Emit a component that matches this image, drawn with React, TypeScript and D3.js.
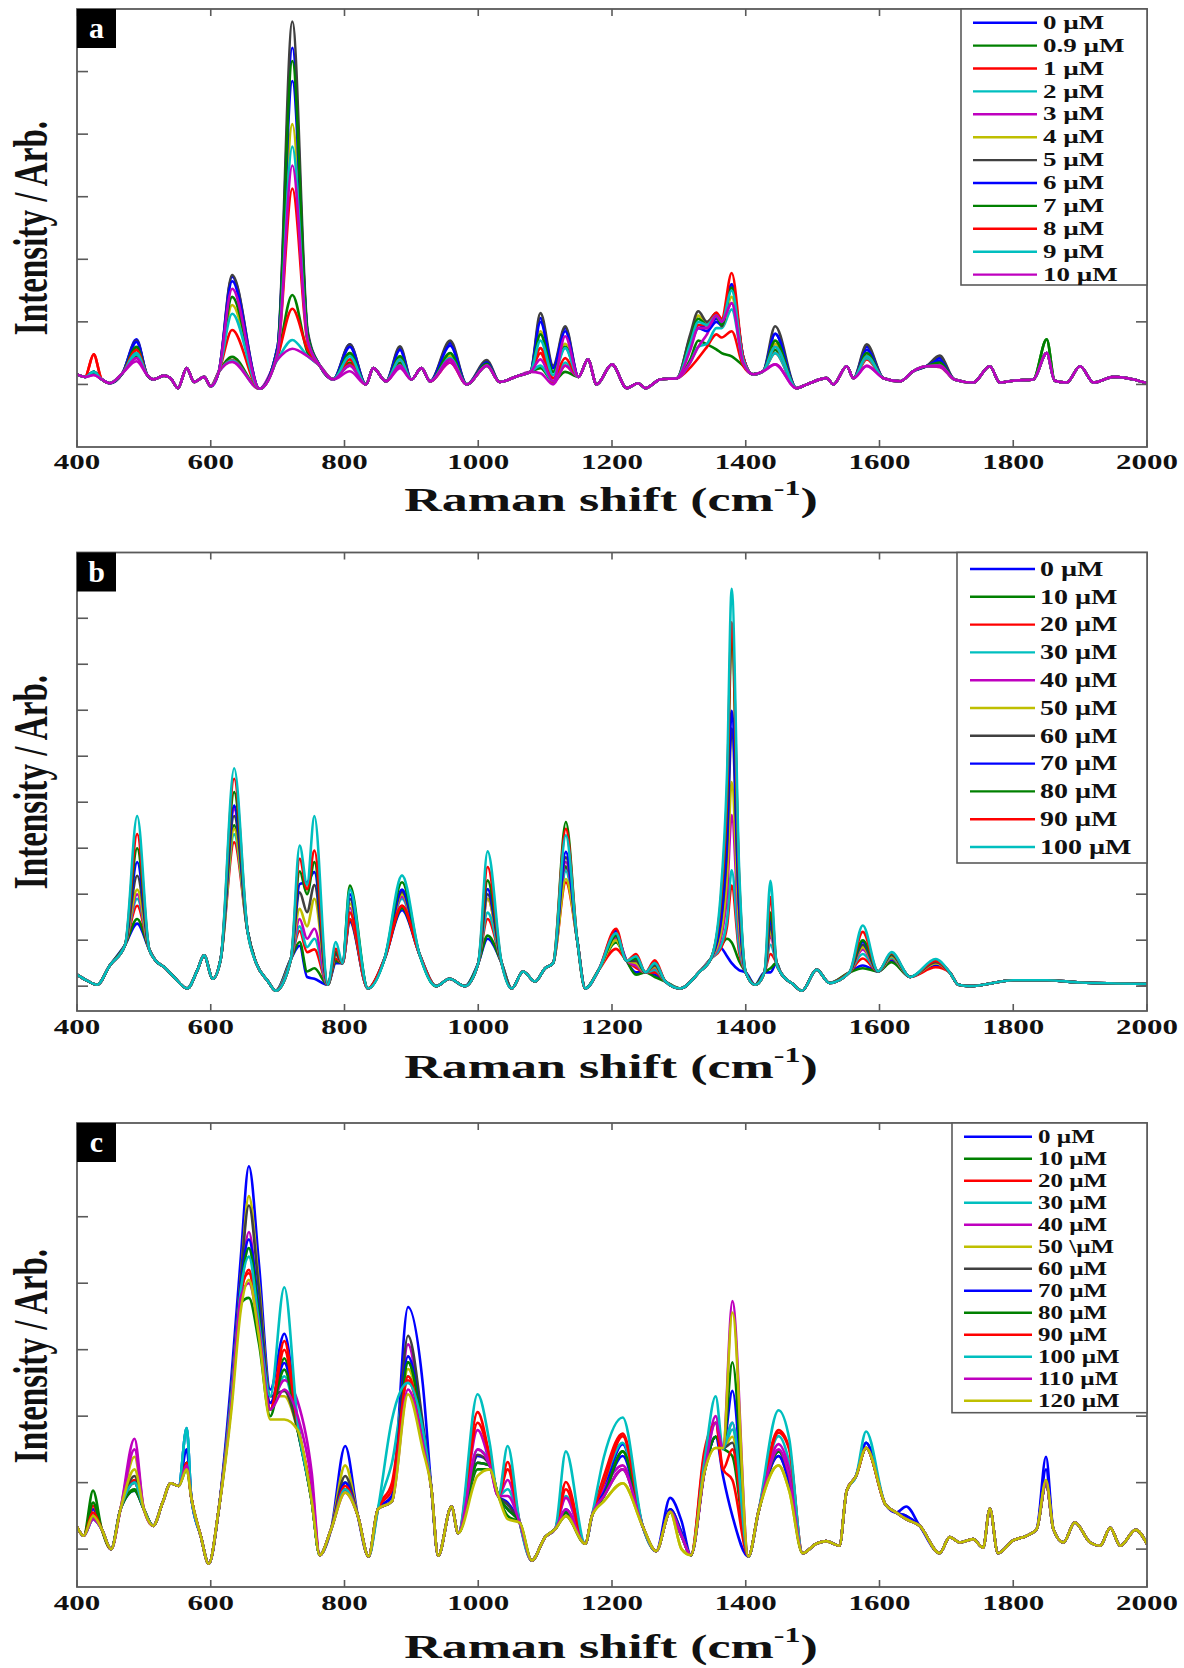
import React from "react";
import * as d3 from "d3";

const W = 1184;
const H = 1668;
const FONT = "'Liberation Serif', 'Times New Roman', serif";
const COLORS = ["#0000ff", "#008000", "#ff0000", "#00bfbf", "#bf00bf", "#bfbf00", "#404040"];
const xTicks = [400, 600, 800, 1000, 1200, 1400, 1600, 1800, 2000];

// ---------- panel a ----------
const labelsA = ["0 µM", "0.9 µM", "1 µM", "2 µM", "3 µM", "4 µM", "5 µM", "6 µM", "7 µM", "8 µM", "9 µM", "10 µM"];
const baseXA = [400, 412, 437, 449, 468, 505, 514, 530, 540, 551, 564, 575, 590, 600, 612, 673, 763, 783, 832, 843, 862, 900, 915, 928, 983, 1032, 1060, 1078, 1150, 1164, 1177, 1200, 1222, 1239, 1250, 1272, 1297, 1411, 1426, 1476, 1491, 1521, 1531, 1551, 1561, 1606, 1631, 1650, 1670, 1712, 1740, 1765, 1780, 1800, 1830, 1862, 1880, 1900, 1920, 1950, 1980, 2000];
const baseYA = [0.16, 0.12, 0.08, 0.02, 0.18, 0.15, 0.08, 0.14, 0.1, -0.06, 0.26, 0.04, 0.12, -0.03, 0.2, -0.07, 0.3, 0.08, 0.0, 0.26, 0.05, 0.08, 0.26, 0.05, 0.0, 0.04, 0.14, 0.2, 0.12, 0.4, 0.0, 0.32, -0.06, 0.02, -0.06, 0.08, 0.1, 0.16, 0.21, -0.06, 0.0, 0.1, 0.0, 0.29, 0.1, 0.1, 0.05, 0.21, 0.29, 0.08, 0.03, 0.29, 0.03, 0.06, 0.08, 0.06, 0.03, 0.29, 0.03, 0.12, 0.08, 0.02];
const peakXA = [425, 489, 632, 700, 722, 745, 808, 883, 958, 1013, 1093, 1112, 1130, 1317, 1329, 1342, 1356, 1364, 1379, 1396, 1444, 1581, 1690, 1850];
const peakYA = [
  [0.2, 0.72, 1.72, 0.6, 5.38, 0.8, 0.64, 0.58, 0.66, 0.36, 1.06, 0.26, 0.9, 0.75, 0.95, 0.9, 1.05, 0.95, 1.6, 0.45, 0.81, 0.6, 0.42, 0.5],
  [0.18, 0.45, 0.44, 0.45, 1.43, 0.5, 0.35, 0.35, 0.42, 0.3, 0.26, 0.05, 0.2, 0.4, 0.7, 0.64, 0.56, 0.5, 0.45, 0.3, 0.55, 0.45, 0.3, 0.72],
  [0.48, 0.58, 0.39, 0.45, 1.21, 0.55, 0.32, 0.3, 0.35, 0.3, 0.5, 0.02, 0.3, 0.27, 0.42, 0.6, 0.8, 0.75, 0.85, 0.3, 0.5, 0.4, 0.28, 0.5],
  [0.2, 0.48, 0.38, 0.4, 0.71, 0.45, 0.3, 0.3, 0.4, 0.3, 0.3, 0.05, 0.35, 0.35, 0.6, 0.65, 0.9, 0.9, 1.2, 0.35, 0.5, 0.42, 0.3, 0.5],
  [0.15, 0.37, 0.36, 0.4, 0.57, 0.45, 0.21, 0.26, 0.35, 0.3, 0.18, 0.0, 0.3, 0.35, 0.6, 0.8, 1.1, 1.0, 1.3, 0.4, 0.32, 0.29, 0.28, 0.5],
  [0.2, 0.55, 1.27, 0.55, 4.16, 0.75, 0.5, 0.45, 0.45, 0.32, 0.85, 0.2, 0.65, 0.75, 1.1, 0.95, 1.1, 0.93, 1.4, 0.4, 0.65, 0.45, 0.32, 0.5],
  [0.2, 0.7, 1.75, 0.6, 5.8, 0.85, 0.64, 0.61, 0.7, 0.39, 1.14, 0.3, 0.93, 0.8, 1.17, 1.0, 1.14, 0.93, 1.55, 0.45, 0.93, 0.64, 0.46, 0.5],
  [0.2, 0.68, 1.65, 0.6, 4.85, 0.8, 0.6, 0.55, 0.62, 0.35, 1.0, 0.26, 0.85, 0.6, 0.9, 0.85, 1.0, 0.95, 1.6, 0.45, 0.81, 0.55, 0.38, 0.5],
  [0.2, 0.6, 1.4, 0.55, 5.17, 0.8, 0.5, 0.45, 0.5, 0.33, 0.8, 0.2, 0.6, 0.7, 1.05, 0.95, 1.1, 0.95, 1.55, 0.4, 0.7, 0.5, 0.35, 0.72],
  [0.48, 0.55, 0.87, 0.5, 3.13, 0.65, 0.4, 0.4, 0.4, 0.3, 0.58, 0.1, 0.42, 0.6, 0.95, 0.95, 1.15, 1.05, 1.78, 0.45, 0.6, 0.45, 0.3, 0.5],
  [0.2, 0.5, 1.13, 0.5, 3.8, 0.7, 0.45, 0.4, 0.42, 0.3, 0.7, 0.15, 0.58, 0.65, 1.0, 0.95, 1.1, 1.0, 1.5, 0.4, 0.6, 0.45, 0.3, 0.5],
  [0.15, 0.42, 1.53, 0.5, 3.5, 0.7, 0.3, 0.3, 0.4, 0.3, 0.4, 0.05, 0.77, 0.55, 0.9, 0.9, 1.1, 1.0, 1.3, 0.35, 0.32, 0.3, 0.3, 0.5],
];

// ---------- panel b ----------
const labelsB = ["0 µM", "10 µM", "20 µM", "30 µM", "40 µM", "50 µM", "60 µM", "70 µM", "80 µM", "90 µM", "100 µM"];
const baseXB = [400, 415, 430, 449, 472, 508, 518, 530, 545, 565, 580, 590, 603, 615, 655, 668, 685, 697, 720, 775, 797, 835, 860, 912, 937, 957, 980, 1000, 1035, 1050, 1067, 1085, 1100, 1112, 1148, 1160, 1180, 1222, 1250, 1280, 1302, 1330, 1348, 1400, 1414, 1428, 1446, 1452, 1470, 1484, 1506, 1525, 1555, 1598, 1646, 1705, 1718, 1735, 1800, 1850, 1900, 2000];
const baseYB = [0.25, 0.12, 0.03, 0.45, 0.9, 0.8, 0.55, 0.42, 0.2, -0.05, 0.35, 0.67, 0.16, 0.6, 1.2, 0.5, 0.12, -0.1, 0.6, 0.03, 0.5, -0.05, 0.6, 0.7, 0.0, 0.16, 0.0, 0.5, 0.5, -0.05, 0.32, 0.1, 0.39, 0.5, 1.0, -0.05, 0.35, 0.55, 0.3, 0.1, -0.05, 0.3, 0.6, 0.3, 0.03, 0.3, 0.5, 0.3, 0.05, -0.1, 0.36, 0.07, 0.3, 0.32, 0.2, 0.3, 0.03, 0.0, 0.13, 0.13, 0.08, 0.05];
const peakXB = [490, 635, 733, 744, 755, 787, 808, 886, 1014, 1131, 1206, 1236, 1264, 1362, 1372, 1379, 1390, 1437, 1575, 1618, 1684];
const peakYB = [
  [1.36, 3.9, 0.88, 0.2, 0.16, 0.5, 1.4, 1.65, 1.03, 2.6, 1.1, 0.3, 0.25, 0.84, 0.65, 0.5, 0.35, 0.3, 0.45, 0.55, 0.45],
  [1.46, 3.5, 0.96, 0.32, 0.39, 0.55, 1.45, 1.7, 1.1, 2.6, 0.95, 0.25, 0.2, 0.85, 1.03, 0.95, 0.55, 0.39, 0.39, 0.52, 0.5],
  [1.75, 3.13, 1.2, 0.74, 0.8, 0.6, 1.46, 1.75, 1.46, 2.26, 0.81, 0.4, 0.3, 0.8, 1.3, 2.19, 0.75, 0.7, 0.6, 0.6, 0.41],
  [1.9, 3.3, 1.3, 0.85, 1.03, 0.7, 1.6, 1.9, 1.6, 2.5, 1.0, 0.45, 0.35, 0.85, 1.45, 2.52, 0.85, 0.9, 0.7, 0.62, 0.5],
  [2.0, 3.85, 1.46, 1.03, 1.25, 0.7, 1.7, 1.95, 1.9, 2.7, 1.05, 0.45, 0.4, 1.0, 2.0, 3.72, 1.15, 1.1, 0.8, 0.65, 0.5],
  [2.1, 3.42, 1.68, 1.3, 1.9, 0.7, 1.8, 2.0, 1.9, 2.33, 1.0, 0.5, 0.42, 1.1, 2.4, 4.44, 1.35, 1.2, 0.85, 0.65, 0.5],
  [2.4, 3.7, 2.04, 1.61, 2.2, 0.7, 1.9, 2.05, 2.0, 2.8, 1.1, 0.55, 0.45, 1.3, 3.0, 5.6, 1.7, 1.3, 0.9, 0.68, 0.52],
  [2.7, 3.93, 2.22, 2.26, 2.48, 0.75, 2.0, 2.1, 2.11, 2.92, 1.2, 0.6, 0.5, 1.35, 3.2, 5.99, 1.8, 1.46, 0.96, 0.7, 0.55],
  [3.0, 4.22, 2.5, 2.0, 2.7, 0.75, 2.19, 2.26, 2.3, 3.57, 1.1, 0.6, 0.5, 1.7, 4.0, 7.6, 2.3, 1.6, 1.0, 0.7, 0.55],
  [3.31, 4.51, 2.77, 2.11, 2.95, 0.81, 1.6, 1.75, 2.59, 3.42, 1.25, 0.7, 0.56, 1.75, 4.2, 7.91, 2.4, 1.94, 1.18, 0.72, 0.55],
  [3.7, 4.74, 3.06, 2.2, 3.7, 0.96, 2.1, 2.41, 2.93, 3.28, 1.15, 0.65, 0.5, 1.9, 4.6, 8.64, 2.6, 2.29, 1.32, 0.74, 0.59],
];

// ---------- panel c ----------
const labelsC = ["0 µM", "10 µM", "20 µM", "30 µM", "40 µM", "50 \\µM", "60 µM", "70 µM", "80 µM", "90 µM", "100 µM", "110 µM", "120 µM"];
const baseXC = [400, 410, 437, 451, 465, 500, 514, 528, 540, 552, 571, 585, 597, 612, 763, 780, 820, 836, 850, 930, 940, 960, 970, 1030, 1062, 1080, 1100, 1115, 1160, 1170, 1246, 1266, 1318, 1404, 1419, 1485, 1505, 1520, 1540, 1551, 1565, 1609, 1625, 1660, 1690, 1705, 1720, 1740, 1755, 1765, 1777, 1800, 1820, 1835, 1860, 1875, 1892, 1915, 1930, 1945, 1960, 1983, 2000];
const baseYC = [0.34, 0.2, 0.3, 0.0, 0.6, 0.6, 0.35, 0.7, 0.99, 0.95, 0.77, 0.2, -0.22, 0.6, -0.09, 0.3, 0.5, -0.11, 0.6, 0.9, -0.1, 0.64, 0.24, 0.8, 0.4, -0.17, 0.18, 0.3, 0.08, 0.5, 0.34, -0.03, -0.09, -0.11, 0.56, -0.06, 0.08, 0.12, 0.05, 0.88, 1.1, 0.67, 0.55, 0.35, -0.06, 0.18, 0.1, 0.15, 0.02, 0.61, -0.06, 0.13, 0.2, 0.3, 0.3, 0.1, 0.4, 0.1, 0.05, 0.32, 0.05, 0.29, 0.08];
const peakXC = [424, 486, 564, 631, 645, 657, 672, 689, 710, 730, 751, 801, 871, 895, 917, 999, 1017, 1044, 1131, 1188, 1216, 1287, 1304, 1338, 1355, 1366, 1380, 1449, 1465, 1580, 1640, 1849];
const peakYC = [
  [0.6, 0.88, 1.82, 2.6, 4.4, 5.76, 4.3, 2.4, 3.24, 1.9, 0.75, 1.55, 0.8, 3.64, 2.49, 1.4, 1.3, 0.7, 0.6, 0.9, 1.58, 0.77, 0.42, 1.15, 1.69, 1.1, 0.5, 1.47, 1.1, 1.6, 0.64, 1.39],
  [0.88, 0.88, 1.2, 2.2, 3.7, 3.78, 3.1, 2.0, 2.87, 1.79, 0.72, 1.0, 0.72, 2.81, 1.79, 1.2, 1.2, 0.5, 0.55, 0.8, 1.47, 0.56, 0.2, 1.15, 1.69, 1.52, 1.4, 1.47, 1.1, 1.52, 0.45, 1.0],
  [0.65, 1.04, 1.3, 2.3, 3.9, 4.15, 3.3, 2.1, 3.13, 1.85, 0.8, 0.9, 1.0, 2.54, 1.7, 2.06, 1.4, 1.31, 1.01, 1.1, 1.74, 0.56, 0.2, 1.47, 1.9, 1.2, 1.04, 1.79, 1.52, 1.52, 0.45, 1.0],
  [0.45, 1.0, 1.82, 2.3, 3.9, 4.53, 3.5, 2.1, 2.6, 1.8, 0.75, 0.9, 1.3, 2.6, 1.8, 1.5, 1.3, 0.9, 0.8, 1.0, 1.6, 0.56, 0.2, 1.2, 1.9, 1.5, 1.8, 1.7, 1.3, 1.6, 0.45, 1.0],
  [0.45, 1.66, 1.26, 2.3, 3.9, 4.77, 3.5, 2.2, 2.54, 2.22, 1.15, 0.9, 0.72, 3.08, 1.79, 1.79, 1.3, 1.04, 0.77, 0.9, 1.26, 0.56, 0.2, 1.15, 2.0, 1.52, 1.9, 1.58, 1.2, 1.52, 0.45, 1.0],
  [0.5, 1.39, 1.26, 2.4, 4.1, 5.31, 4.0, 2.3, 2.3, 1.79, 0.72, 1.26, 0.72, 2.71, 1.79, 1.3, 1.26, 0.6, 0.5, 0.72, 0.99, 0.56, 0.0, 1.15, 1.52, 1.52, 1.69, 1.26, 0.88, 1.52, 0.45, 1.04],
  [0.5, 1.1, 1.3, 2.4, 4.1, 5.17, 3.9, 2.3, 2.38, 1.79, 0.72, 1.1, 0.72, 3.21, 1.9, 1.42, 1.26, 0.67, 0.5, 0.8, 1.2, 0.6, 0.25, 1.15, 1.69, 1.52, 1.6, 1.4, 1.0, 1.52, 0.5, 1.0],
  [0.5, 1.0, 1.5, 2.4, 4.0, 4.66, 3.6, 2.2, 2.8, 1.8, 0.72, 1.0, 0.8, 2.9, 1.8, 1.3, 1.26, 0.6, 0.55, 0.85, 1.4, 0.6, 0.25, 1.15, 1.69, 1.52, 2.38, 1.4, 1.0, 1.6, 0.5, 1.2],
  [0.7, 0.9, 1.3, 2.3, 3.9, 4.53, 3.5, 2.1, 2.7, 1.79, 0.72, 0.9, 0.72, 2.81, 1.79, 1.3, 1.26, 0.6, 0.55, 0.8, 1.47, 0.56, 0.2, 1.15, 1.69, 1.52, 2.81, 1.47, 1.1, 1.52, 0.45, 1.0],
  [0.55, 1.0, 1.3, 2.3, 3.8, 4.2, 3.3, 2.1, 3.0, 1.85, 0.8, 0.95, 0.9, 2.6, 1.7, 1.9, 1.4, 1.2, 0.9, 1.0, 1.7, 0.56, 0.2, 1.4, 1.9, 1.2, 1.5, 1.75, 1.5, 1.52, 0.45, 1.0],
  [0.45, 1.0, 1.82, 2.3, 3.9, 4.4, 3.4, 2.3, 3.94, 1.9, 0.75, 0.9, 1.95, 2.5, 1.8, 2.33, 1.6, 1.55, 1.47, 1.39, 1.98, 0.56, 0.2, 1.3, 2.3, 1.52, 1.9, 2.09, 1.66, 1.77, 0.45, 1.0],
  [0.45, 1.5, 1.26, 2.2, 3.8, 4.0, 3.3, 2.1, 2.4, 2.0, 1.0, 0.85, 0.72, 2.4, 1.6, 1.5, 1.26, 0.8, 0.6, 0.8, 1.2, 0.56, 0.2, 1.15, 1.9, 1.52, 3.73, 1.5, 1.1, 1.52, 0.45, 1.0],
  [0.5, 1.2, 1.2, 2.1, 3.6, 4.05, 3.2, 1.95, 1.95, 1.79, 0.72, 0.85, 0.72, 2.33, 1.5, 1.1, 1.2, 0.45, 0.5, 0.72, 0.99, 0.56, 0.0, 1.15, 1.52, 1.52, 3.56, 1.26, 0.88, 1.52, 0.45, 1.04],
];

// layout of the three stacked panels
const panels = [
  {
    id: "a", top: 9, bottom: 447, yDomain: [-1, 6], yTicks: [0, 1, 2, 3, 4, 5],
    tickY: 468.5, titleY: 511, ylabY: 228,
    leg: { left: 961, bottom: 285, y0: 22.7, step: 22.9, l0: 973, l1: 1037, tx: 1043, size: 27, s: 0.67 },
    labels: labelsA, baseX: baseXA, baseY: baseYA, peakX: peakXA, peakY: peakYA,
  },
  {
    id: "b", top: 552.5, bottom: 1011, yDomain: [-0.54, 9.43], yTicks: [0, 1, 2, 3, 4, 5, 6, 7, 8],
    tickY: 1033.5, titleY: 1077.5, ylabY: 782,
    leg: { left: 957, bottom: 863, y0: 569, step: 27.8, l0: 970, l1: 1035, tx: 1040, size: 28, s: 0.72 },
    labels: labelsB, baseX: baseXB, baseY: baseYB, peakX: peakXB, peakY: peakYB,
  },
  {
    id: "c", top: 1123, bottom: 1587, yDomain: [-0.57, 6.41], yTicks: [0, 1, 2, 3, 4, 5],
    tickY: 1609.5, titleY: 1658, ylabY: 1356,
    leg: { left: 952, bottom: 1412.7, y0: 1136.7, step: 22, l0: 964, l1: 1032, tx: 1038, size: 25, s: 0.72 },
    labels: labelsC, baseX: baseXC, baseY: baseYC, peakX: peakXC, peakY: peakYC,
  },
];

const LEFT = 77;
const RIGHT = 1147;
const FRAME = "#5a5a5a";

function Panel({ p }: { p: any }) {
  const x = d3.scaleLinear().domain([400, 2000]).range([LEFT, RIGHT]);
  const y = d3.scaleLinear().domain(p.yDomain).range([p.bottom, p.top]);
  const knots: number[] = Array.from(new Set<number>([...p.baseX, ...p.peakX])).sort((a, b) => a - b);
  const line = d3
    .line<[number, number]>()
    .x(d => x(d[0]))
    .y(d => y(d[1]))
    .curve(d3.curveMonotoneX);

  const paths = p.peakY.map((row: number[]) =>
    line(
      knots.map(k => {
        const pi = p.peakX.indexOf(k);
        return [k, pi >= 0 ? row[pi] : p.baseY[p.baseX.indexOf(k)]] as [number, number];
      })
    )
  );

  const lg = p.leg;
  const cx = (LEFT + RIGHT) / 2;
  return (
    <g>
      <defs>
        <clipPath id={"clip-" + p.id}>
          <rect x={LEFT} y={p.top} width={RIGHT - LEFT} height={p.bottom - p.top} />
        </clipPath>
      </defs>
      <g clipPath={`url(#clip-${p.id})`}>
        {paths.map((d: string, i: number) => (
          <path key={i} d={d} fill="none" stroke={COLORS[i % 7]} strokeWidth={2.6} strokeLinejoin="round" />
        ))}
      </g>
      {/* frame and ticks */}
      <rect x={LEFT} y={p.top} width={RIGHT - LEFT} height={p.bottom - p.top} fill="none" stroke={FRAME} strokeWidth={1.8} />
      {xTicks.map(t => (
        <g key={t} stroke={FRAME} strokeWidth={1.6}>
          <line x1={x(t)} x2={x(t)} y1={p.bottom} y2={p.bottom - 7} />
          <line x1={x(t)} x2={x(t)} y1={p.top} y2={p.top + 7} />
        </g>
      ))}
      {p.yTicks.map((t: number) => (
        <g key={t} stroke={FRAME} strokeWidth={1.6}>
          <line x1={LEFT} x2={LEFT + 11} y1={y(t)} y2={y(t)} />
          <line x1={RIGHT} x2={RIGHT - 11} y1={y(t)} y2={y(t)} />
        </g>
      ))}
      {xTicks.map(t => (
        <text
          key={t}
          transform={`translate(${x(t)},${p.tickY}) scale(1,0.65)`}
          textAnchor="middle"
          fontFamily={FONT}
          fontWeight="bold"
          fontSize={31}
          fill="#111"
        >
          {t}
        </text>
      ))}
      {/* axis titles */}
      <text
        transform={`translate(${cx - 1},${p.titleY}) scale(1,0.66)`}
        textAnchor="middle"
        fontFamily={FONT}
        fontWeight="bold"
        fontSize={52}
        fill="#111"
      >
        Raman shift (cm
        <tspan fontSize={32} dy={-24}>-1</tspan>
        <tspan dy={24}>)</tspan>
      </text>
      <text
        transform={`translate(47,${p.ylabY}) rotate(-90) scale(0.69,1)`}
        textAnchor="middle"
        fontFamily={FONT}
        fontWeight="bold"
        fontSize={48}
        fill="#111"
      >
        Intensity / Arb.
      </text>
      {/* panel letter */}
      <rect x={LEFT} y={p.top} width={39} height={39} fill="#000" />
      <text x={LEFT + 19.5} y={p.top + 29} textAnchor="middle" fontFamily={FONT} fontWeight="bold" fontSize={30} fill="#fff">
        {p.id}
      </text>
      {/* legend */}
      <rect x={lg.left} y={p.top} width={RIGHT - lg.left} height={lg.bottom - p.top} fill="#fff" stroke={FRAME} strokeWidth={1.6} />
      {p.labels.map((lab: string, i: number) => {
        const yy = lg.y0 + i * lg.step;
        return (
          <g key={lab}>
            <line x1={lg.l0} x2={lg.l1} y1={yy} y2={yy} stroke={COLORS[i % 7]} strokeWidth={2.4} />
            <text
              transform={`translate(${lg.tx},${yy + 0.34 * lg.size * lg.s}) scale(1,${lg.s})`}
              fontFamily={FONT}
              fontWeight="bold"
              fontSize={lg.size}
              fill="#111"
            >
              {lab}
            </text>
          </g>
        );
      })}
    </g>
  );
}

export default function App() {
  return (
    <svg
      width={W}
      height={H}
      viewBox={`0 0 ${W} ${H}`}
      style={{ position: "absolute", left: 0, top: 0, background: "#fff" }}
    >
      <rect width={W} height={H} fill="#fff" />
      {panels.map(p => (
        <Panel key={p.id} p={p} />
      ))}
    </svg>
  );
}
